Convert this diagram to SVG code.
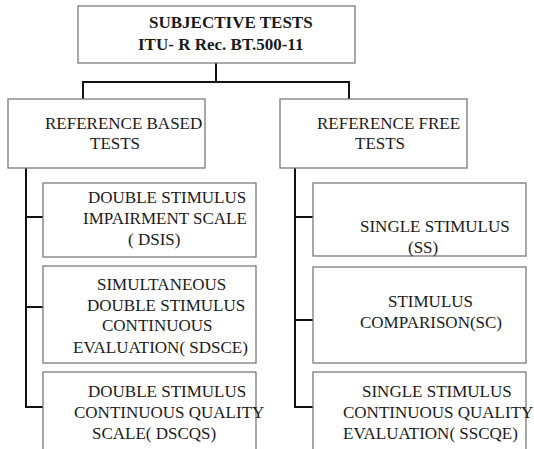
<svg xmlns="http://www.w3.org/2000/svg" width="534" height="449" viewBox="0 0 534 449">
<style>
.box{fill:#fff;stroke:#7a7a7a;stroke-width:1.3}
text{font-family:'Liberation Serif','Times New Roman','DejaVu Serif',serif;font-size:17px;fill:#1a1a1a}
.b{font-weight:bold}
.c{fill:none;stroke:#111;stroke-width:2}
</style>
<rect width="534" height="449" fill="#fff"/>
<g id="connectors">
<polyline class="c" points="216,63 216,82"/>
<polyline class="c" points="83,99 83,82 349,82 349,99"/>
<polyline class="c" points="26,168 26,407 43,407"/>
<line class="c" x1="26" y1="217" x2="43" y2="217"/>
<line class="c" x1="26" y1="307" x2="43" y2="307"/>
<polyline class="c" points="295,168 295,407 313,407"/>
<line class="c" x1="295" y1="217" x2="313" y2="217"/>
<line class="c" x1="295" y1="320" x2="313" y2="320"/>
</g>
<g id="root">
<rect class="box" x="78" y="6" width="277" height="57"/>
<text class="b" x="149" y="28" font-family="Liberation Serif, serif">SUBJECTIVE TESTS</text>
<text class="b" x="138" y="50" font-family="Liberation Serif, serif">ITU- R Rec. BT.500-11</text>
</g>
<g id="refbased">
<rect class="box" x="8" y="99" width="197" height="69"/>
<text x="45" y="129">REFERENCE BASED</text>
<text x="90" y="149">TESTS</text>
</g>
<g id="reffree">
<rect class="box" x="280" y="99" width="187" height="69"/>
<text x="317" y="129">REFERENCE FREE</text>
<text x="355" y="149">TESTS</text>
</g>
<g id="dsis">
<rect class="box" x="43" y="183" width="213" height="74"/>
<text x="88" y="203">DOUBLE STIMULUS</text>
<text x="83" y="224">IMPAIRMENT SCALE</text>
<text x="128" y="245">( DSIS)</text>
</g>
<g id="sdsce">
<rect class="box" x="43" y="266" width="213" height="97"/>
<text x="97" y="290">SIMULTANEOUS</text>
<text x="87" y="311">DOUBLE STIMULUS</text>
<text x="102" y="331">CONTINUOUS</text>
<text x="73" y="353">EVALUATION( SDSCE)</text>
</g>
<g id="dscqs">
<rect class="box" x="43" y="372" width="213" height="90"/>
<text x="88" y="397">DOUBLE STIMULUS</text>
<text x="74" y="418">CONTINUOUS QUALITY</text>
<text x="92" y="439">SCALE( DSCQS)</text>
</g>
<g id="ss">
<rect class="box" x="313" y="183" width="213" height="73"/>
<text x="360" y="232">SINGLE STIMULUS</text>
<text x="408" y="253">(SS)</text>
</g>
<g id="sc">
<rect class="box" x="313" y="267" width="213" height="96"/>
<text x="388" y="307">STIMULUS</text>
<text x="360" y="328">COMPARISON(SC)</text>
</g>
<g id="sscqe">
<rect class="box" x="313" y="372" width="213" height="90"/>
<text x="362" y="397">SINGLE STIMULUS</text>
<text x="343" y="418">CONTINUOUS QUALITY</text>
<text x="343" y="439">EVALUATION( SSCQE)</text>
</g>
</svg>
